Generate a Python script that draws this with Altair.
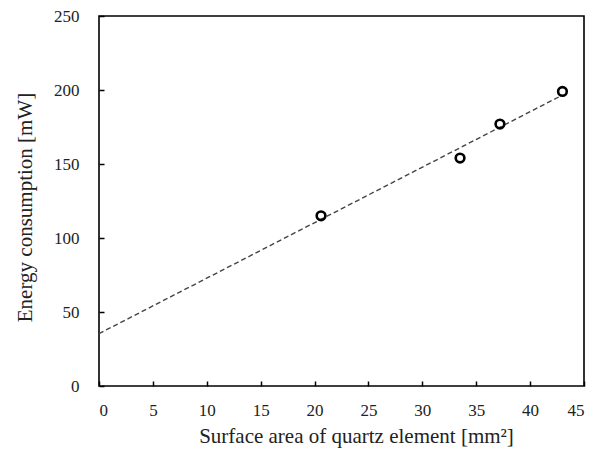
import altair as alt
import pandas as pd

area = [20.6, 33.5, 37.2, 43.0]
energy = [115, 154, 177, 199]
x_ticks = [0, 5, 10, 15, 20, 25, 30, 35, 40, 45]
y_ticks = [0, 50, 100, 150, 200, 250]

df = pd.DataFrame({"area": area, "energy": energy})

FONT = "Liberation Serif"
xs = alt.Scale(domain=[0, 45], nice=False, zero=False)
ys = alt.Scale(domain=[0, 250], nice=False, zero=False)

base = alt.Chart(df)

points = base.mark_point(shape="circle", filled=False, color="black",
                         strokeWidth=2.6, size=75, opacity=1).encode(
    x=alt.X("area:Q", scale=xs, axis=alt.Axis(
        orient="bottom", values=x_ticks, ticks=False, domain=False, grid=False,
        labelPadding=16, titlePadding=7, labelFont=FONT, titleFont=FONT,
        labelFontSize=17, titleFontSize=21, labelColor="#222", titleColor="#222",
        titleX=257, titleAlign="center",
        titleFontWeight="normal", title="Surface area of quartz element [mm²]")),
    y=alt.Y("energy:Q", scale=ys, axis=alt.Axis(
        orient="left", values=y_ticks, ticks=False, domain=False, grid=False,
        labelPadding=20, titlePadding=18, labelFont=FONT, titleFont=FONT,
        labelFontSize=17, titleFontSize=21, labelColor="#222", titleColor="#222",
        titleY=191, titleAlign="center",
        titleFontWeight="normal", title="Energy consumption [mW]")),
)

line = base.transform_regression("area", "energy", extent=[0, 43]).mark_line(
    color="#444", strokeDash=[5, 3], strokeWidth=1.4).encode(
    x=alt.X("area:Q", scale=xs, axis=alt.Axis(
        orient="bottom", values=x_ticks, labels=False, domain=False, grid=False,
        tickSize=5, offset=-5, tickColor="black", tickWidth=1.5, title=None)),
    y=alt.Y("energy:Q", scale=ys, axis=alt.Axis(
        orient="left", values=y_ticks, labels=False, domain=False, grid=False,
        tickSize=5, offset=-5, tickColor="black", tickWidth=1.5, title=None)),
)

chart = alt.layer(line, points).resolve_axis(x="independent", y="independent").properties(
    width=485, height=370,
    background="white",
    autosize=alt.AutoSizeParams(type="none"),
    padding={"left": 91, "top": 8, "right": 10, "bottom": 62},
).configure_view(stroke="black", strokeWidth=1.6)

chart.save("out.html", embed_options={"renderer": "svg", "actions": False})
